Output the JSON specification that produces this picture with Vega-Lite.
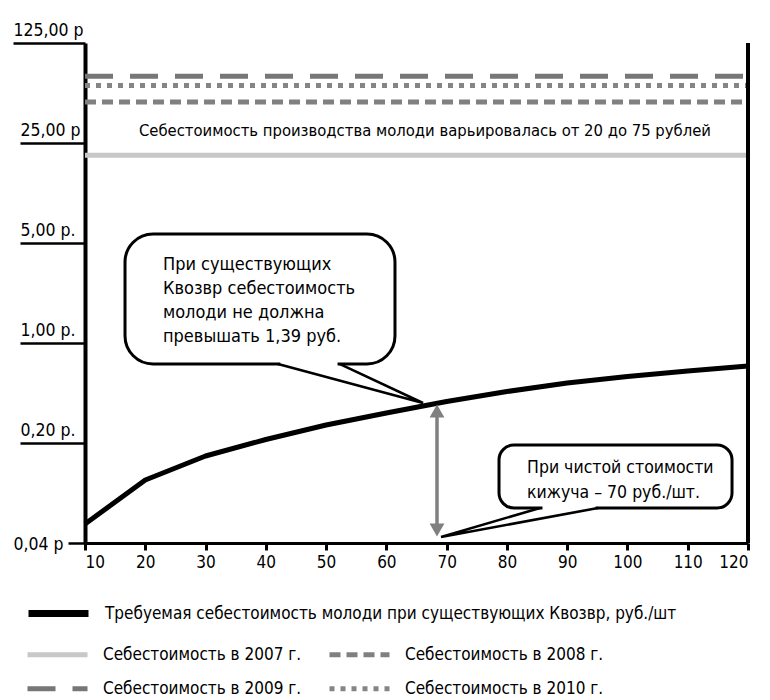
{
  "$schema": "https://vega.github.io/schema/vega-lite/v6.json",
  "width": 663,
  "height": 500,
  "autosize": {"type": "none"},
  "padding": {"left": 85, "top": 43, "right": 22, "bottom": 157},
  "background": "white",
  "config": {
    "view": {"stroke": null},
    "font": "DejaVu Sans Condensed",
    "text": {"font": "DejaVu Sans Condensed"},
    "legend": {"labelFont": "DejaVu Sans Condensed", "labelColor": "black"}
  },
  "layer": [
    {
      "data": {"values": [
        {"x": 10, "y": 0.0543, "s": "Требуемая себестоимость молоди при существующих Квозвр, руб./шт"},
        {"x": 20, "y": 0.1103, "s": "Требуемая себестоимость молоди при существующих Квозвр, руб./шт"},
        {"x": 30, "y": 0.1622, "s": "Требуемая себестоимость молоди при существующих Квозвр, руб./шт"},
        {"x": 40, "y": 0.2116, "s": "Требуемая себестоимость молоди при существующих Квозвр, руб./шт"},
        {"x": 50, "y": 0.2672, "s": "Требуемая себестоимость молоди при существующих Квозвр, руб./шт"},
        {"x": 60, "y": 0.3241, "s": "Требуемая себестоимость молоди при существующих Квозвр, руб./шт"},
        {"x": 70, "y": 0.390, "s": "Требуемая себестоимость молоди при существующих Квозвр, руб./шт"},
        {"x": 80, "y": 0.458, "s": "Требуемая себестоимость молоди при существующих Квозвр, руб./шт"},
        {"x": 90, "y": 0.525, "s": "Требуемая себестоимость молоди при существующих Квозвр, руб./шт"},
        {"x": 100, "y": 0.583, "s": "Требуемая себестоимость молоди при существующих Квозвр, руб./шт"},
        {"x": 110, "y": 0.637, "s": "Требуемая себестоимость молоди при существующих Квозвр, руб./шт"},
        {"x": 120, "y": 0.691, "s": "Требуемая себестоимость молоди при существующих Квозвр, руб./шт"}
      ]},
      "mark": {"type": "line", "strokeWidth": 5, "strokeJoin": "round"},
      "encoding": {
        "x": {
          "field": "x", "type": "quantitative",
          "scale": {"domain": [10, 120], "nice": false, "zero": false},
          "axis": {
            "title": null, "values": [10, 20, 30, 40, 50, 60, 70, 80, 90, 100, 110, 120],
            "grid": false, "domainColor": "black", "domainWidth": 3,
            "tickColor": "black", "tickWidth": 3, "tickSize": 7,
            "labelFontSize": 17, "labelColor": "black", "labelPadding": 4,
            "labelFont": "DejaVu Sans Condensed"
          }
        },
        "y": {
          "field": "y", "type": "quantitative",
          "scale": {"type": "log", "domain": [0.04, 125], "nice": false},
          "axis": {
            "title": null, "values": [0.04, 0.2, 1, 5, 25, 125],
            "grid": false, "domainColor": "black", "domainWidth": 4,
            "tickColor": "black", "tickWidth": 2.5,
            "tickSize": {"condition": [{"test": "datum.value > 100", "value": 72}, {"test": "datum.value < 0.1", "value": 17}], "value": 65},
            "labelAlign": {"condition": {"test": "datum.value < 0.1", "value": "right"}, "value": "left"},
            "labelBaseline": "alphabetic",
            "labelOffset": {"condition": {"test": "datum.value < 0.1", "value": 6}, "value": -8},
            "labelPadding": {"condition": {"test": "datum.value < 0.1", "value": 5}, "value": 0},
            "labelFontSize": 17.5, "labelColor": "black",
            "labelFont": "DejaVu Sans Condensed",
            "labelExpr": "datum.value > 100 ? '125,00 р' : datum.value > 20 ? '25,00 р' : datum.value > 4 ? '5,00 р.' : datum.value > 0.5 ? '1,00 р.' : datum.value > 0.1 ? '0,20 р.' : '0,04 р'"
          }
        },
        "stroke": {
          "field": "s", "type": "nominal",
          "scale": {"range": ["black"]},
          "legend": {
            "orient": "none", "legendX": -60, "legendY": 537, "title": null,
            "symbolType": "stroke", "symbolSize": 3600, "symbolStrokeWidth": 7,
            "labelFontSize": 17, "labelOffset": 13, "labelLimit": 0
          }
        }
      }
    },
    {
      "data": {"values": [
        {"x": 10, "y": 20.5, "s": "Себестоимость в 2007 г."},
        {"x": 120, "y": 20.5, "s": "Себестоимость в 2007 г."},
        {"x": 10, "y": 48.4, "s": "Себестоимость в 2008 г."},
        {"x": 120, "y": 48.4, "s": "Себестоимость в 2008 г."}
      ]},
      "mark": {"type": "line", "strokeWidth": 5, "strokeCap": "butt"},
      "encoding": {
        "x": {"field": "x", "type": "quantitative"},
        "y": {"field": "y", "type": "quantitative"},
        "stroke": {
          "field": "s", "type": "nominal",
          "scale": {"domain": ["Себестоимость в 2007 г.", "Себестоимость в 2008 г."], "range": ["#c8c8c8", "#808080"]},
          "legend": {
            "orient": "none", "legendX": -60, "legendY": 579, "title": null, "columns": 2,
            "columnPadding": 17,
            "symbolType": "stroke", "symbolSize": 3600, "symbolStrokeWidth": 5,
            "labelFontSize": 17, "labelOffset": 13, "labelLimit": 0
          }
        },
        "strokeDash": {
          "field": "s", "type": "nominal",
          "scale": {"domain": ["Себестоимость в 2007 г.", "Себестоимость в 2008 г."], "range": [[1, 0], [11, 6]]},
          "legend": {
            "orient": "none", "legendX": -60, "legendY": 579, "title": null, "columns": 2,
            "columnPadding": 17,
            "symbolType": "stroke", "symbolSize": 3600, "symbolStrokeWidth": 5,
            "labelFontSize": 17, "labelOffset": 13, "labelLimit": 0
          }
        }
      }
    },
    {
      "data": {"values": [
        {"x": 10, "y": 73.2, "s": "Себестоимость в 2009 г."},
        {"x": 120, "y": 73.2, "s": "Себестоимость в 2009 г."},
        {"x": 10, "y": 63.2, "s": "Себестоимость в 2010 г."},
        {"x": 120, "y": 63.2, "s": "Себестоимость в 2010 г."}
      ]},
      "mark": {"type": "line", "strokeWidth": 5, "strokeCap": "butt"},
      "encoding": {
        "x": {"field": "x", "type": "quantitative"},
        "y": {"field": "y", "type": "quantitative"},
        "stroke": {
          "field": "s", "type": "nominal",
          "scale": {"domain": ["Себестоимость в 2009 г.", "Себестоимость в 2010 г."], "range": ["#777777", "#858585"]},
          "legend": {
            "orient": "none", "legendX": -60, "legendY": 613, "title": null, "columns": 2,
            "columnPadding": 17,
            "symbolType": "stroke", "symbolSize": 3600, "symbolStrokeWidth": 5,
            "labelFontSize": 17, "labelOffset": 13, "labelLimit": 0
          }
        },
        "strokeDash": {
          "field": "s", "type": "nominal",
          "scale": {"domain": ["Себестоимость в 2009 г.", "Себестоимость в 2010 г."], "range": [[28, 17], [5, 6]]},
          "legend": {
            "orient": "none", "legendX": -60, "legendY": 613, "title": null, "columns": 2,
            "columnPadding": 17,
            "symbolType": "stroke", "symbolSize": 3600, "symbolStrokeWidth": 5,
            "labelFontSize": 17, "labelOffset": 13, "labelLimit": 0
          }
        }
      }
    },
    {
      "data": {"values": [{"x": 120, "y": 0.04, "y2": 125}]},
      "mark": {"type": "rule", "strokeWidth": 4, "color": "black"},
      "encoding": {
        "x": {"field": "x", "type": "quantitative"},
        "y": {"field": "y", "type": "quantitative"},
        "y2": {"field": "y2"}
      }
    },
    {
      "data": {"values": [{"x": 66.4, "y": 30.5, "t": "Себестоимость производства молоди варьировалась от 20 до 75 рублей"}]},
      "mark": {"type": "text", "fontSize": 16.5, "align": "center", "baseline": "middle", "color": "black"},
      "encoding": {
        "x": {"field": "x", "type": "quantitative"},
        "y": {"field": "y", "type": "quantitative"},
        "text": {"field": "t"}
      }
    },
    {
      "data": {"values": [{"x": 16.64, "x2": 61.43, "y": 0.713, "y2": 5.78}]},
      "mark": {"type": "rect", "fill": "white", "stroke": "black", "strokeWidth": 3, "cornerRadius": 28},
      "encoding": {
        "x": {"field": "x", "type": "quantitative"},
        "x2": {"field": "x2"},
        "y": {"field": "y", "type": "quantitative"},
        "y2": {"field": "y2"}
      }
    },
    {
      "data": {"values": [{"x": 78.69, "x2": 117.35, "y": 0.0703, "y2": 0.1936}]},
      "mark": {"type": "rect", "fill": "white", "stroke": "black", "strokeWidth": 3, "cornerRadius": 15},
      "encoding": {
        "x": {"field": "x", "type": "quantitative"},
        "x2": {"field": "x2"},
        "y": {"field": "y", "type": "quantitative"},
        "y2": {"field": "y2"}
      }
    },
    {
      "data": {"values": [
        {"x": 42.4, "x2": 51.9, "y": 0.713},
        {"x": 85.9, "x2": 94.7, "y": 0.0703}
      ]},
      "mark": {"type": "rule", "strokeWidth": 5, "color": "white"},
      "encoding": {
        "x": {"field": "x", "type": "quantitative"},
        "x2": {"field": "x2"},
        "y": {"field": "y", "type": "quantitative"}
      }
    },
    {
      "data": {"values": [
        {"x": 42.02, "y": 0.713, "id": "a", "o": 1},
        {"x": 66.08, "y": 0.3807, "id": "a", "o": 2},
        {"x": 52.31, "y": 0.713, "id": "a", "o": 3},
        {"x": 85.49, "y": 0.0703, "id": "b", "o": 1},
        {"x": 69.07, "y": 0.04405, "id": "b", "o": 2},
        {"x": 95.12, "y": 0.0703, "id": "b", "o": 3}
      ]},
      "mark": {"type": "line", "strokeWidth": 2.5, "color": "black", "strokeJoin": "miter"},
      "encoding": {
        "x": {"field": "x", "type": "quantitative"},
        "y": {"field": "y", "type": "quantitative"},
        "detail": {"field": "id"},
        "order": {"field": "o"}
      }
    },
    {
      "data": {"values": [
        {"x": 22.94, "y": 3.236, "t": "При существующих\nКвозвр себестоимость\nмолоди не должна\nпревышать 1,39 руб."}
      ]},
      "mark": {"type": "text", "fontSize": 18, "align": "left", "baseline": "alphabetic", "lineBreak": "\n", "lineHeight": 24, "color": "black"},
      "encoding": {
        "x": {"field": "x", "type": "quantitative"},
        "y": {"field": "y", "type": "quantitative"},
        "text": {"field": "t"}
      }
    },
    {
      "data": {"values": [
        {"x": 83.34, "y": 0.1234, "t": "При чистой стоимости\nкижуча – 70 руб./шт."}
      ]},
      "mark": {"type": "text", "fontSize": 17.5, "align": "left", "baseline": "alphabetic", "lineBreak": "\n", "lineHeight": 25, "color": "black"},
      "encoding": {
        "x": {"field": "x", "type": "quantitative"},
        "y": {"field": "y", "type": "quantitative"},
        "text": {"field": "t"}
      }
    },
    {
      "data": {"values": [{"x": 68.4, "y": 0.3347, "y2": 0.0493}]},
      "mark": {"type": "rule", "strokeWidth": 3.5, "color": "#808080"},
      "encoding": {
        "x": {"field": "x", "type": "quantitative"},
        "y": {"field": "y", "type": "quantitative"},
        "y2": {"field": "y2"}
      }
    },
    {
      "data": {"values": [{"x": 68.4, "y": 0.3347}]},
      "mark": {"type": "point", "shape": "triangle-up", "size": 220, "filled": true, "color": "#808080", "opacity": 1},
      "encoding": {
        "x": {"field": "x", "type": "quantitative"},
        "y": {"field": "y", "type": "quantitative"}
      }
    },
    {
      "data": {"values": [{"x": 68.4, "y": 0.0493}]},
      "mark": {"type": "point", "shape": "triangle-down", "size": 220, "filled": true, "color": "#808080", "opacity": 1},
      "encoding": {
        "x": {"field": "x", "type": "quantitative"},
        "y": {"field": "y", "type": "quantitative"}
      }
    }
  ],
  "resolve": {
    "scale": {"stroke": "independent", "strokeDash": "independent"},
    "legend": {"stroke": "independent", "strokeDash": "independent"}
  }
}
